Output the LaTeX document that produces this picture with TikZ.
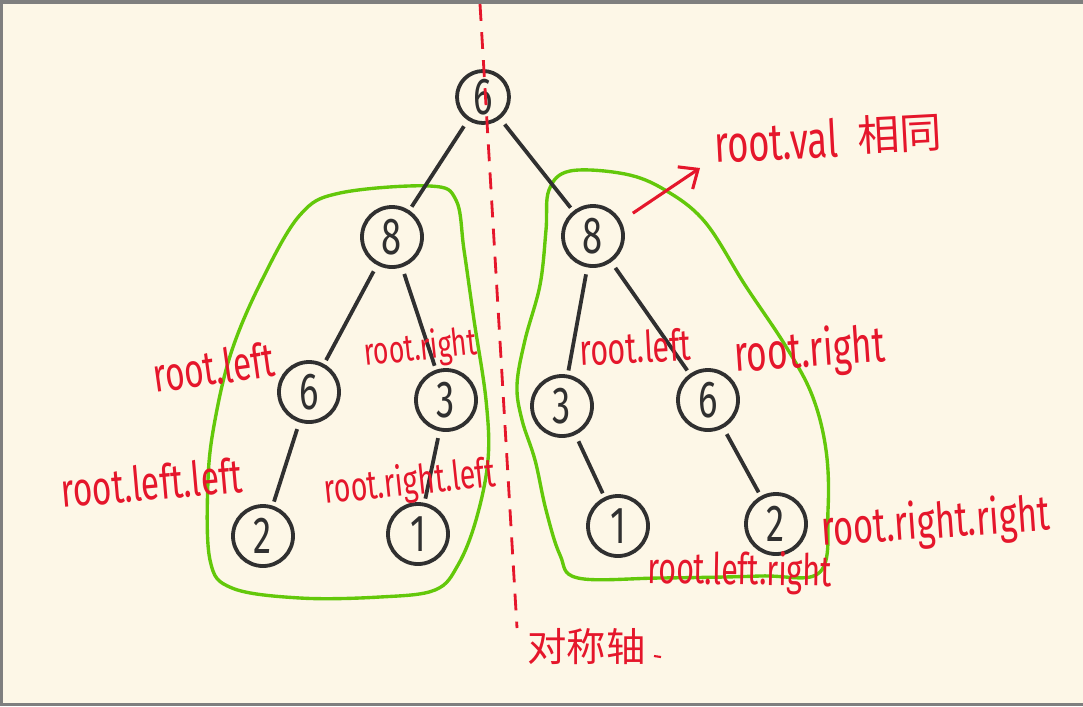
\documentclass[tikz,border=0pt]{standalone}
\usepackage{fontspec}
\setmainfont{Fira Sans}
\newfontfamily\handfont[FakeStretch=0.7]{Fira Sans}
\newfontfamily\cjkfont{Noto Sans CJK SC}
\usetikzlibrary{arrows.meta}
\definecolor{paper}{HTML}{FDF7E7}
\definecolor{frame}{HTML}{7F7F7F}
\definecolor{ink}{HTML}{303030}
\definecolor{pen}{HTML}{E5162B}
\definecolor{leaf}{HTML}{63C80A}
\begin{document}
\begin{tikzpicture}[x=0.025cm,y=-0.025cm,
    num/.style={draw=ink, line width=2.7pt, circle, minimum size=1.5cm,
      inner sep=0pt, text=ink, font=\handfont\fontsize{37}{37}\selectfont},
    lbl/.style={text=pen, inner sep=0pt, anchor=base west,
      font=\handfont\fontsize{#1}{#1}\selectfont},
    cjk/.style={text=pen, inner sep=0pt, anchor=base west,
      font=\cjkfont\fontsize{#1}{#1}\selectfont},
    hull/.style={draw=leaf, line width=2.4pt},
    mirror/.style={draw=pen, line width=2pt, dash pattern=on 12pt off 8pt}]
  \useasboundingbox (0,0) rectangle (1083,706);
  \fill[frame] (0,0) rectangle (1083,706);
  \fill[paper] (3,4) rectangle (1083,703);
  % the two mirrored subtrees
  \draw[hull] plot[smooth cycle, tension=0.6] coordinates {(430,186) (456,200)
    (464,250) (474,320) (486,400) (488,460) (476,520) (458,565) (435,590)
    (380,597) (300,598) (232,588) (210,560) (208,480) (215,420) (232,350)
    (262,280) (300,215) (340,193)};
  \draw[hull] plot[smooth cycle, tension=0.6] coordinates {(570,171) (625,174)
    (665,190) (705,222) (745,285) (785,345) (812,395) (826,450) (828,510)
    (820,572) (760,576) (660,578) (578,578) (560,555) (546,510) (535,460)
    (522,420) (517,385) (525,340) (540,285) (546,230) (549,190)};
  \draw
    (483,97) node[num, minimum size=1.3cm] (0){6}
    (392,237) node[num] (1){8}
    (593,236) node[num] (2){8}
    (309,392) node[num] (3){6}
    (446,400) node[num] (4){3}
    (562,406) node[num] (5){3}
    (708,400) node[num] (6){6}
    (263,536) node[num] (7){2}
    (418,534) node[num] (8){1}
    (618,526) node[num] (9){1}
    (776,524) node[num] (10){2};
  \begin{scope}[-, draw=ink, line width=2.7pt, shorten <=5pt, shorten >=3pt]
    \draw (0) to (1);
    \draw (0) to (2);
    \draw (1) to (3);
    \draw (1) to (4);
    \draw (2) to (5);
    \draw (2) to (6);
    \draw (3) to (7);
    \draw (4) to (8);
    \draw (5) to (9);
    \draw (6) to (10);
  \end{scope}
  % axis of symmetry
  \coordinate (top) at (480,4);
  \coordinate (bot) at (517,628);
  \draw[mirror] (top) -- (bot);
  % labels
  \node[lbl=37, rotate=3] (val) at (715,163) {root.val};
  \node[cjk=30, rotate=3] (same) at (858,152) {相同};
  \coordinate (tip) at (700,168);
  \draw[pen, line width=2.2pt, shorten <=10pt,
    -{Straight Barb[length=11pt, width=19pt]}] (2.28) -- (tip);
  \node[lbl=34, rotate=8] (l1) at (155,393) {root.left};
  \node[lbl=27, rotate=6] (l2) at (365,366) {root.right};
  \node[lbl=34, rotate=5] (l3) at (62,508) {root.left.left};
  \node[lbl=29, rotate=6] (l4) at (325,504) {root.right.left};
  \node[lbl=31, rotate=3] (l5) at (580,366) {root.left};
  \node[lbl=36, rotate=4] (l6) at (735,372) {root.right};
  \node[lbl=35, rotate=4] (l7) at (822,546) {root.right.right};
  \node[lbl=31, rotate=-1] (l8) at (647,583) {root.left.right};
  \node[cjk=28] (axis) at (527,661) {对称轴};
  \coordinate (m1) at (654,656);
  \coordinate (m2) at (661,657);
  \draw[pen, line width=1.5pt] (m1) -- (m2);
\end{tikzpicture}
\end{document}
